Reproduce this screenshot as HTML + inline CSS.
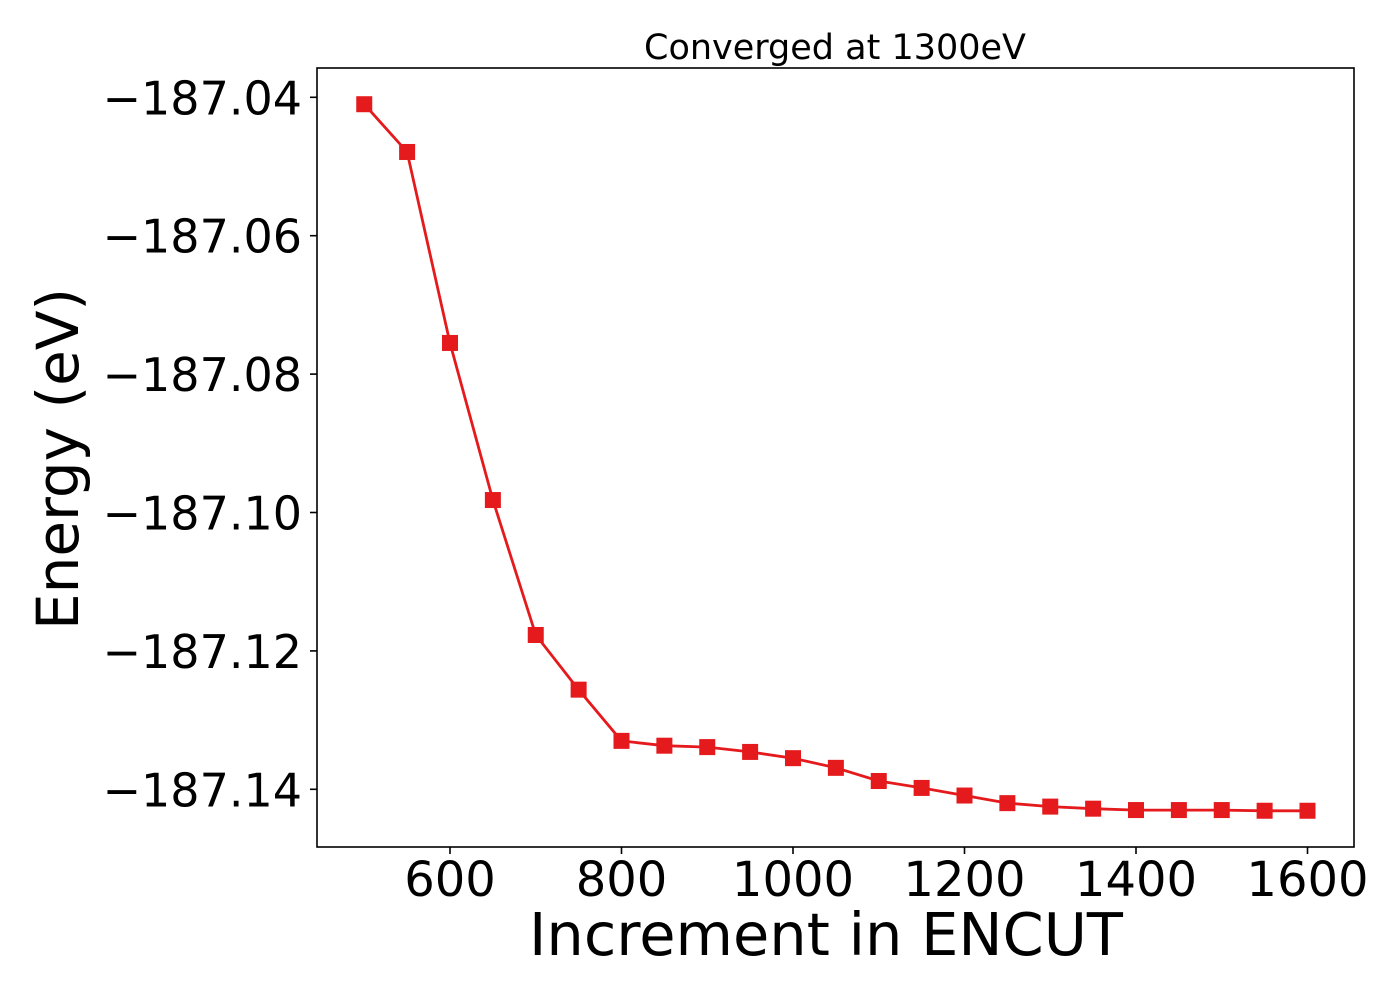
<!DOCTYPE html>
<html><head><meta charset="utf-8"><style>
html,body{margin:0;padding:0;background:#fff}
text{font-family:"DejaVu Sans","Liberation Sans",sans-serif;fill:#000}
</style></head><body>
<svg id="chart" width="1400" height="1000" viewBox="0 0 1400 1000">
<rect width="1400" height="1000" fill="#fff"/>
<g id="plot"></g>
<rect x="317" y="68" width="1037" height="779" fill="none" stroke="#000" stroke-width="1.6"/>
<text x="835" y="59" font-size="35" text-anchor="middle">Converged at 1300eV</text>
<text x="826" y="955" font-size="59" text-anchor="middle">Increment in ENCUT</text>
<text x="0" y="0" font-size="58" text-anchor="middle" transform="translate(78,459) rotate(-90)">Energy (eV)</text>
</svg>
<script>
const encut = [500,550,600,650,700,750,800,850,900,950,1000,1050,1100,1150,1200,1250,1300,1350,1400,1450,1500,1550,1600];
const energy = [-187.0410,-187.0479,-187.0755,-187.0982,-187.1177,-187.1256,-187.1330,-187.1337,-187.1339,-187.1346,-187.1355,-187.1369,-187.1388,-187.1398,-187.1409,-187.1420,-187.1425,-187.1428,-187.1430,-187.1430,-187.1430,-187.1431,-187.1431];
const xTicks = [600,800,1000,1200,1400,1600];
const yTicks = [-187.04,-187.06,-187.08,-187.10,-187.12,-187.14];
const yTickLabels = ["\u2212187.04","\u2212187.06","\u2212187.08","\u2212187.10","\u2212187.12","\u2212187.14"];

const NS='http://www.w3.org/2000/svg';
const L=317,R=1354,T=68,B=847;
function xs(v){return 450+(v-600)*(171.5/200);}
function ys(v){return 97.3+(-187.04-v)*6920;}
const g=document.getElementById('plot');
const svg=document.getElementById('chart');
function mk(tag,attrs,parent){const e=document.createElementNS(NS,tag);for(const k in attrs)e.setAttribute(k,attrs[k]);(parent||g).appendChild(e);return e;}

xTicks.forEach(v=>{
  const x=xs(v);
  const t=mk('line',{x1:x,x2:x,y1:B,y2:B+7,stroke:'#000','stroke-width':1.6},svg);
  
  
  const lb=mk('text',{x:x,y:896,'font-size':48,'text-anchor':'middle'},svg);
  lb.textContent=String(v);
  
  
});
yTicks.forEach((v,i)=>{
  const y=ys(v);
  const t=mk('line',{x1:L-7,x2:L,y1:y,y2:y,stroke:'#000','stroke-width':1.6},svg);
  
  
  const lb=mk('text',{x:302,y:y+17,'font-size':46,'text-anchor':'end'},svg);
  lb.textContent=yTickLabels[i];
  
  
});
const pts=encut.map((v,i)=>xs(v).toFixed(1)+','+ys(energy[i]).toFixed(1)).join(' ');
const line=mk('polyline',{points:pts,fill:'none',stroke:'#e41a1c','stroke-width':2.8});


encut.forEach((v,i)=>{
  const m=mk('rect',{x:xs(v)-8,y:ys(energy[i])-8,width:16,height:16,fill:'#e41a1c'});
  
  
});
</script>
</body></html>
